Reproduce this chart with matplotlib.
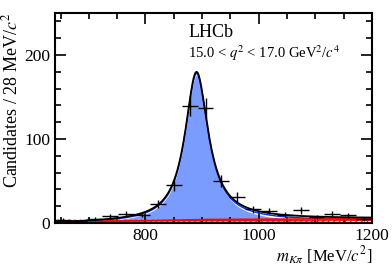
import numpy as np
import matplotlib
matplotlib.use("Agg")
import matplotlib.pyplot as plt
from matplotlib.ticker import MultipleLocator

plt.rcParams["font.family"] = ["Liberation Serif", "DejaVu Serif"]
plt.rcParams["mathtext.fontset"] = "stix"
plt.rcParams["hatch.color"] = "red"
plt.rcParams["hatch.linewidth"] = 0.8

# binned data: K pi mass (bin centres, 28 MeV bins) and candidate counts
bin_centres = [654, 682, 710, 738, 766, 794, 822, 850, 878, 906,
               934, 962, 990, 1018, 1046, 1074, 1102, 1130, 1158, 1186]
counts = [4, 2, 5, 8, 11, 10, 23, 45, 139, 137,
          50, 31, 16, 14, 10, 15, 7, 11, 9, 5]
bin_width = 28

# fit model parameters
kst_mass = 892.0      # MeV
kst_width = 50.0      # MeV
sig_peak = 176.0      # peak height of signal component
bkg_band = 4.0        # hatched background level
swave_m = [640, 900, 1200]
swave_y = [0.5, 4.0, 5.0]

m_k, m_pi = 493.7, 139.6
r_bw = 0.003  # 1/MeV


def mom(m):
    a = np.clip((m**2 - (m_k + m_pi)**2) * (m**2 - (m_k - m_pi)**2), 0, None)
    return np.sqrt(a) / (2 * m)


def rel_bw(m):
    q = mom(m)
    q0 = mom(kst_mass)
    gam = kst_width * (q / q0)**3 * (kst_mass / m) * (1 + (r_bw * q0)**2) / (1 + (r_bw * q)**2)
    num = (kst_mass * kst_width)**2
    den = (kst_mass**2 - m**2)**2 + (kst_mass * gam)**2
    return (q / q0) * num / den


m = np.linspace(640, 1200, 600)
sig = rel_bw(m)
sig = sig_peak * sig / sig.max()
swave = np.interp(m, swave_m, swave_y)
total = sig + swave

fig = plt.figure(figsize=(3.92, 2.66), dpi=100)
ax = fig.add_axes([0.140, 0.162, 0.809, 0.789])

ax.fill_between(m, 0, sig, color="#7b9cff", lw=0)
ax.plot(m, sig + 0.5 * swave, color="#0030ff", lw=1.0)
ax.fill_between(m, 0, bkg_band, facecolor="none", edgecolor="red",
                hatch="//////", lw=0)
ax.plot(m, np.full_like(m, bkg_band), color="red", lw=0.6)
ax.plot(m, swave, color="red", lw=1.2)
ax.plot(m, total, color="black", lw=1.3)

ax.errorbar(bin_centres, counts, xerr=bin_width / 2, yerr=np.sqrt(counts),
            fmt="none", ecolor="black", elinewidth=1.0, capsize=0)

ax.set_xlim(640, 1200)
ax.set_ylim(0, 250)
ax.xaxis.set_major_locator(MultipleLocator(200))
ax.xaxis.set_minor_locator(MultipleLocator(50))
ax.yaxis.set_major_locator(MultipleLocator(100))
ax.yaxis.set_minor_locator(MultipleLocator(20))
ax.tick_params(which="both", direction="in", top=True, right=True,
               labelsize=12.5, width=1.2)
ax.tick_params(axis="x", pad=4)
ax.tick_params(which="major", length=8)
ax.tick_params(which="minor", length=4)
for s in ax.spines.values():
    s.set_linewidth(1.5)

ax.set_ylabel(r"Candidates / 28 MeV/$c^2$", fontsize=13)
ax.yaxis.set_label_coords(-0.107, 0.585)
ax.set_xlabel(r"$m_{K\pi}$ [MeV/$c^2$]", fontsize=12, ha="right")
ax.xaxis.set_label_coords(1.0, -0.105)

ax.text(0.42, 0.95, "LHCb", transform=ax.transAxes, fontsize=13, va="top")
ax.text(0.42, 0.855, r"15.0 < $q^2$ < 17.0 GeV$^2$/$c^4$",
        transform=ax.transAxes, fontsize=10.5, va="top")

fig.savefig("out.png", dpi=100)
